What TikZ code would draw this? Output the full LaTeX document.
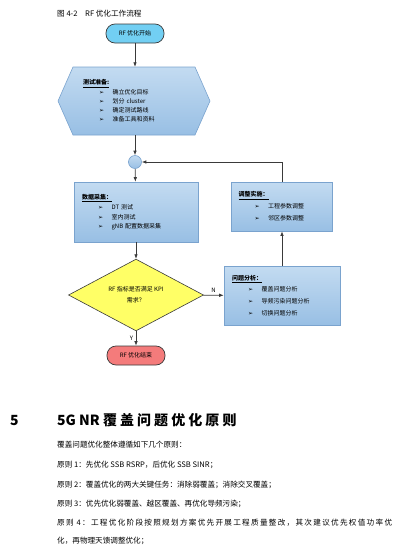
\documentclass[tikz,border=0pt]{standalone}
\usepackage{fontspec}
\setmainfont{Noto Sans CJK SC}
\newfontfamily\symfont{DejaVu Sans}
\usetikzlibrary{shapes.geometric, arrows.meta, positioning, calc}
\definecolor{boxtop}{HTML}{C3DBF1}
\definecolor{boxbot}{HTML}{98BFE4}
\definecolor{boxline}{HTML}{7AA3CE}
\definecolor{startfill}{HTML}{72CFF3}
\definecolor{endfill}{HTML}{F47B7B}
\definecolor{testfill}{HTML}{FFFF66}
\definecolor{wire}{HTML}{3A3A3A}
\newcommand{\itm}{\hspace*{16pt}{\symfont\fontsize{6}{6}\selectfont ➢}\hspace*{8.5pt}}

\begin{document}
\begin{tikzpicture}[x=1pt, y=-1pt,
    every node/.style={inner sep=0pt},
    term/.style={draw=wire, line width=0.7pt, rounded corners=9pt,
                 minimum width=58pt, minimum height=19pt, font=\fontsize{6}{7}\selectfont},
    box/.style={draw=boxline, line width=0.6pt, top color=boxtop, bottom color=boxbot,
                align=left, inner xsep=8pt, font=\fontsize{6}{9.2}\selectfont},
    decision/.style={diamond, draw=wire, line width=0.6pt, fill=testfill,
                     minimum width=135pt, minimum height=54pt, align=center,
                     font=\fontsize{6}{11}\selectfont},
    merger/.style={circle, draw=boxline, line width=0.6pt, top color=boxtop,
                   bottom color=boxbot, minimum size=13pt},
    flow/.style={-{Latex[length=4.5pt,width=3.5pt]}, line width=0.7pt, draw=wire},
    lab/.style={font=\fontsize{6}{7}\selectfont, inner sep=2.5pt},
    body/.style={anchor=base west, font=\fontsize{7.6}{9}\selectfont}
]
\useasboundingbox (0,0) rectangle (413,552);

% caption
\node[body] (cap) at (57,16) {图 4-2\quad RF 优化工作流程};

% flow chart nodes
\node[term, fill=startfill] (start) at (135,33.5) {RF 优化开始};

\coordinate (hexc) at (135,101);
\shadedraw[draw=boxline, line width=0.6pt, top color=boxtop, bottom color=boxbot]
  ($(hexc)+(-77,0)$) -- ($(hexc)+(-62,-34)$) -- ($(hexc)+(60,-34)$)
  -- ($(hexc)+(75,0)$) -- ($(hexc)+(60,34)$) -- ($(hexc)+(-62,34)$) -- cycle;
\node[align=left, font=\fontsize{6}{9.2}\selectfont, minimum width=152pt,
      minimum height=68pt, text width=104pt, inner xsep=24pt] (prep) at (hexc)
  {\underline{\textbf{测试准备:}}\\
   \itm 确立优化目标\\
   \itm 划分 cluster\\
   \itm 确定测试路线\\
   \itm 准备工具和资料};

\node[merger] (merge) at (135,162) {};

\node[box, minimum width=124pt, minimum height=60pt, text width=108pt] (collect) at (136,212)
  {\underline{\textbf{数据采集：}}\\[1.5pt]
   \itm DT 测试\\
   \itm 室内测试\\
   \itm gNB 配置数据采集};

\node[decision] (check) at (136,295) {RF 指标是否满足 KPI\\需求？};

\node[box, minimum width=116pt, minimum height=59pt, text width=100pt,
      font=\fontsize{6}{11.8}\selectfont] (problem) at (282,295.5)
  {\underline{\textbf{问题分析：}}\\
   \itm 覆盖问题分析\\
   \itm 导频污染问题分析\\
   \itm 切换问题分析};

\node[box, minimum width=101pt, minimum height=49pt, text width=87pt,
      inner xsep=7pt, font=\fontsize{6}{12}\selectfont] (adjust) at (282,206.5)
  {\underline{\textbf{调整实施：}}\\
   \itm 工程参数调整\\
   \itm 邻区参数调整};

\node[term, fill=endfill] (finish) at (136,355.5) {RF 优化结束};

% connectors
\draw[flow] (start) -- (prep);
\draw[flow] (prep) -- (merge);
\draw[flow] (merge) -- (collect);
\draw[flow] (collect) -- (check);
\draw[flow] (check) -- node[lab, above]{N} (problem);
\draw[flow] (check) -- node[lab, left]{Y} (finish);
\draw[flow] (problem) -- (adjust);
\draw[flow] (adjust.north) |- (merge.east);

% section text
\node[anchor=base west, font=\fontsize{14}{16}\selectfont\bfseries] (secnum) at (10,425) {5};
\node[anchor=base west, font=\fontsize{14}{16}\selectfont\bfseries]
  (sectitle) at (57,425) {5G NR {\addfontfeature{LetterSpace=22}覆盖问题优化原则}};
\node[body] (intro) at (57,447) {覆盖问题优化整体遵循如下几个原则：};
\node[body] (rule1) at (57,467) {原则 1：先优化 SSB RSRP，后优化 SSB SINR；};
\node[body] (rule2) at (57,487) {原则 2：覆盖优化的两大关键任务：消除弱覆盖；消除交叉覆盖；};
\node[body] (rule3) at (57,506) {原则 3：优先优化弱覆盖、越区覆盖、再优化导频污染；};
\node[body, font=\fontsize{7.6}{9}\selectfont\addfontfeature{LetterSpace=17}] (rule4) at (57,525)
  {原则 4：工程优化阶段按照规划方案优先开展工程质量整改，其次建议优先权值功率优};
\node[body] (rule4b) at (57,543) {化，再物理天馈调整优化；};
\end{tikzpicture}
\end{document}
